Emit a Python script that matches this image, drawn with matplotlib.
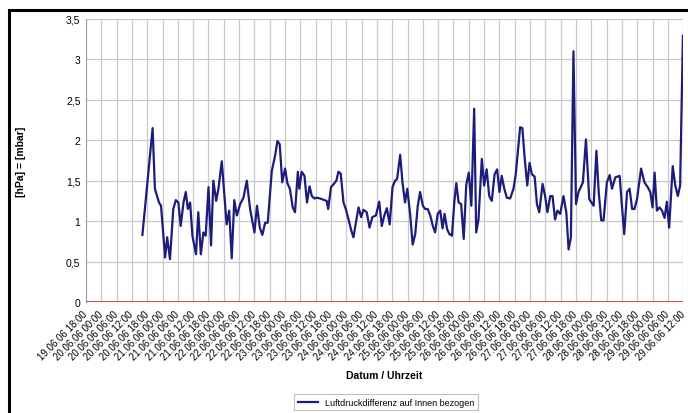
import numpy as np
import pandas as pd
import matplotlib
matplotlib.use("Agg")
import matplotlib.pyplot as plt
from matplotlib.patches import Rectangle

plt.rcParams['font.family'] = ['Liberation Sans', 'DejaVu Sans']

# Stunden ab 19.06.06 18:00 und Luftdruckdifferenz in hPa
stunden = [22.1, 26.1, 27.0, 28.6, 29.4, 31.0, 31.8, 32.9, 34.2, 35.2, 36.2, 37.1, 38.2, 39.1, 39.9,
           40.8, 41.7, 43.1, 44.0, 45.0, 46.0, 46.9, 48.0, 49.0, 49.9, 51.0, 51.9, 53.2, 54.2, 55.1,
           56.1, 57.1, 58.1, 59.1, 60.4, 61.7, 63.0, 64.3, 66.0, 67.0, 68.1, 69.1, 70.2, 71.2, 72.8,
           74.1, 75.0, 75.9, 76.9, 78.0, 78.9, 79.9, 81.0, 81.9, 83.0, 83.6, 84.5, 85.6, 86.6, 87.6,
           88.5, 89.5, 90.4, 91.7, 93.4, 94.3, 94.9, 96.0, 97.1, 98.1, 98.9, 99.8, 100.9, 101.8, 102.8,
           103.9, 104.8, 105.8, 106.8, 107.8, 108.7, 110.0, 111.1, 112.2, 113.6, 114.9, 115.9, 116.9,
           117.9, 119.0, 120.1, 121.1, 121.9, 123.1, 124.0, 125.0, 125.9, 127.0, 128.0, 129.0, 130.0,
           130.9, 132.0, 132.9, 133.9, 134.9, 135.9, 136.8, 137.8, 138.8, 139.7, 140.5, 141.5, 142.4,
           143.4, 144.3, 145.1, 146.0, 147.0, 148.0, 149.0, 150.0, 151.0, 152.1, 152.9, 153.8, 155.1,
           156.0, 157.0, 158.0, 159.0, 160.1, 161.1, 162.0, 162.9, 163.9, 164.9, 166.2, 167.5, 168.4,
           169.2, 170.1, 171.0, 171.8, 172.9, 173.8, 174.7, 175.8, 176.7, 177.6, 178.9, 179.9, 180.8,
           181.9, 182.8, 183.8, 184.7, 185.8, 187.1, 188.2, 189.1, 190.0, 191.0, 192.0, 193.0, 194.7,
           195.9, 197.2, 198.9, 200.0, 200.9, 201.9, 202.8, 204.1, 205.2, 206.1, 207.4, 209.1, 210.0,
           210.9, 212.0, 213.0, 214.0, 214.9, 215.9, 217.5, 218.8, 220.1, 221.1, 222.0, 222.8, 223.7,
           224.7, 225.7, 226.7, 227.6, 228.5, 229.9, 230.9, 231.9, 232.8, 233.9]
differenz = [0.83, 2.15, 1.40, 1.23, 1.19, 0.55, 0.80, 0.53, 1.15, 1.26, 1.23, 0.94, 1.23, 1.36, 1.15,
             1.23, 0.82, 0.59, 1.11, 0.59, 0.86, 0.82, 1.42, 0.70, 1.50, 1.25, 1.40, 1.74, 1.33, 0.96,
             1.13, 0.54, 1.26, 1.07, 1.21, 1.29, 1.50, 1.15, 0.86, 1.19, 0.92, 0.83, 0.98, 0.98, 1.62,
             1.81, 1.99, 1.95, 1.48, 1.65, 1.47, 1.40, 1.17, 1.11, 1.61, 1.40, 1.61, 1.56, 1.23, 1.43,
             1.31, 1.28, 1.29, 1.28, 1.26, 1.25, 1.15, 1.42, 1.46, 1.50, 1.61, 1.59, 1.23, 1.15, 1.03,
             0.89, 0.80, 0.99, 1.17, 1.05, 1.14, 1.11, 0.92, 1.05, 1.07, 1.24, 0.94, 1.07,
             1.16, 0.96, 1.42, 1.50, 1.52, 1.82, 1.48, 1.23, 1.40, 1.09, 0.71, 0.84, 1.19,
             1.36, 1.19, 1.15, 1.15, 1.07, 0.94, 0.86, 1.09, 1.13, 0.91, 1.09, 0.90, 0.84,
             0.82, 1.23, 1.47, 1.23, 1.21, 0.78, 1.45, 1.60, 1.19, 2.39, 0.86, 1.02, 1.77,
             1.44, 1.64, 1.31, 1.25, 1.58, 1.64, 1.36, 1.56, 1.40, 1.29, 1.28, 1.40, 1.58,
             1.85, 2.16, 2.15, 1.81, 1.44, 1.72, 1.58, 1.55, 1.21, 1.11, 1.46, 1.31, 1.11,
             1.31, 1.31, 1.02, 1.13, 1.09, 1.31, 1.11, 0.65, 0.80, 3.10, 1.21, 1.36, 1.48,
             2.01, 1.27, 1.19, 1.87, 1.36, 1.01, 1.01, 1.48, 1.57, 1.40, 1.54, 1.56, 1.19,
             0.84, 1.36, 1.40, 1.15, 1.15, 1.27, 1.65, 1.48, 1.42, 1.36, 1.17, 1.60, 1.13,
             1.17, 1.13, 1.04, 1.24, 0.92, 1.68, 1.44, 1.31, 1.44, 3.29]

# Achsenbeschriftung alle 6 Stunden
zeitpunkte = pd.date_range("2006-06-19 18:00", "2006-06-29 12:00", freq="6h")
x_labels = list(zeitpunkte.strftime("%d.%m.%y %H:%M"))
x_ticks = np.arange(len(x_labels)) * 6
y_ticks = [0, 0.5, 1, 1.5, 2, 2.5, 3, 3.5]
y_labels = ["0", "0,5", "1", "1,5", "2", "2,5", "3", "3,5"]

fig = plt.figure(figsize=(6.88, 4.14), dpi=100)
ax = fig.add_axes([0.125, 0.268, 0.868, 0.684])

ax.plot(stunden, differenz, color="#1c1c7c", lw=1.6,
        label="Luftdruckdifferenz auf Innen bezogen", zorder=3)
ax.axhline(0, color="#e03030", lw=1.3, zorder=4)

ax.set_xlim(0, x_ticks[-1])
ax.set_ylim(0, 3.5)
ax.set_xticks(x_ticks)
ax.set_xticklabels(x_labels, rotation=45, ha="right", va="center",
                   rotation_mode="anchor", fontsize=7)
ax.set_yticks(y_ticks)
ax.set_yticklabels(y_labels, fontsize=7.5)
ax.tick_params(axis="y", length=0, pad=4)
ax.tick_params(axis="x", length=0, pad=7)
ax.grid(True, color="#c8c8c8", lw=0.9)
for s in ["top", "right", "bottom"]:
    ax.spines[s].set_visible(False)
ax.spines["left"].set_color("#a0a0a0")

ax.set_xlabel("Datum / Uhrzeit", fontsize=7.5, fontweight="bold", labelpad=6)
fig.text(0.03, 0.61, "[hPa] = [mbar]", rotation=90, fontsize=7.5, fontweight="bold",
         ha="center", va="center")

leg = fig.legend(loc="center", bbox_to_anchor=(0.561, 0.026), fontsize=6.5, frameon=True,
                 fancybox=False, handlelength=2.2, borderpad=0.4)
leg.get_frame().set_edgecolor("#b0b0b0")
leg.get_frame().set_linewidth(0.8)

# schwarzer Rahmen wie im Original
fig.patches.append(Rectangle((0.013, -0.05), 1.1, 1.023, transform=fig.transFigure,
                             fill=False, edgecolor="black", lw=2.2))

plt.savefig("out.png", dpi=100)
